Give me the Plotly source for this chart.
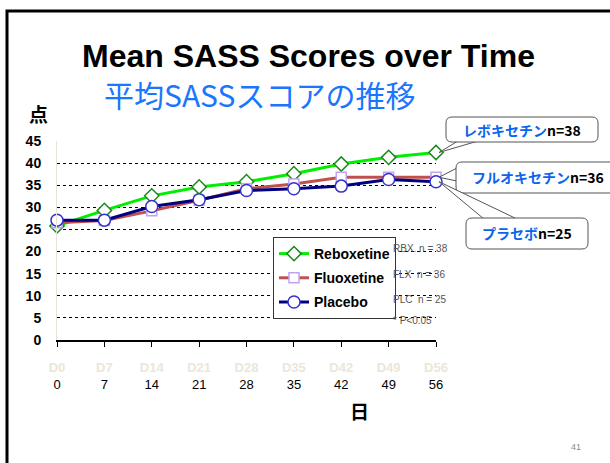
import plotly.graph_objects as go

# ---------------- data ----------------
days = [0, 7, 14, 21, 28, 35, 42, 49, 56]
day_labels = ["D0", "D7", "D14", "D21", "D28", "D35", "D42", "D49", "D56"]
day_numbers = ["0", "7", "14", "21", "28", "35", "42", "49", "56"]
reboxetine = [25.8, 29.3, 32.6, 34.6, 35.8, 37.6, 39.8, 41.3, 42.4]
fluoxetine = [26.5, 27.0, 29.2, 31.6, 34.2, 35.3, 36.8, 36.8, 36.8]
placebo = [27.1, 27.1, 30.2, 31.7, 33.8, 34.2, 34.8, 36.3, 35.8]
series_names = ["Reboxetine", "Fluoxetine", "Placebo"]
y_ticks = [0, 5, 10, 15, 20, 25, 30, 35, 40, 45]
callout_jp = ["レボキセチン", "フルオキセチン", "プラセボ"]
callout_n = ["n=38", "n=36", "n=25"]
side_notes = ["RBX. n = 38", "FLX  n = 36", "PLC  n = 25", "* P<0.05"]

W, H = 610, 463
L, R, T, B = 57, 436, 141, 340  # plot area in pixels

def px(x):
    return (x - L) / (R - L)

def py(y):
    return (B - y) / (B - T)

LAT = "Liberation Sans, Arial, sans-serif"
CJK = "Noto Sans CJK JP, Liberation Sans, sans-serif"

fig = go.Figure()
styles = [
    dict(line=dict(color="#00ee00", width=3),
         marker=dict(symbol="diamond", size=11, color="white", line=dict(color="#1a8a1a", width=1.5))),
    dict(line=dict(color="#c0504d", width=3),
         marker=dict(symbol="square", size=10, color="white", line=dict(color="#c4a2f2", width=1.5))),
    dict(line=dict(color="#000080", width=3),
         marker=dict(symbol="circle", size=12, color="white", line=dict(color="#3333cc", width=1.5))),
]
for name, vals, st, g in zip(series_names, [reboxetine, fluoxetine, placebo], styles, ["a", "b", "c"]):
    fig.add_trace(go.Scatter(x=days, y=vals, name=name, mode="lines+markers",
                             line=st["line"], marker=st["marker"], cliponaxis=False,
                             legendgroup=g))

ticktext = [f"<b><span style='color:#ebe7d8'>{d}</span></b><br>{n}" for d, n in zip(day_labels, day_numbers)]

shapes = []
# slide frame
shapes.append(dict(type="rect", xref="paper", yref="paper",
                   x0=px(7), x1=px(640), y0=py(11), y1=py(490),
                   line=dict(color="black", width=3), fillcolor="rgba(0,0,0,0)", layer="below"))

# legend shadow
shapes.append(dict(type="rect", xref="paper", yref="paper",
                   x0=px(276), x1=px(387), y0=py(240), y1=py(311),
                   line=dict(width=0), fillcolor="#9a9a9a", layer="above"))

def rounded(x0, y0, x1, y1, r=6):
    return (f"M {px(x0+r)},{py(y0)} L {px(x1-r)},{py(y0)} Q {px(x1)},{py(y0)} {px(x1)},{py(y0+r)} "
            f"L {px(x1)},{py(y1-r)} Q {px(x1)},{py(y1)} {px(x1-r)},{py(y1)} "
            f"L {px(x0+r)},{py(y1)} Q {px(x0)},{py(y1)} {px(x0)},{py(y1-r)} "
            f"L {px(x0)},{py(y0+r)} Q {px(x0)},{py(y0)} {px(x0+r)},{py(y0)} Z")

boxes = [(446, 117, 598, 142), (456, 162, 640, 193), (466, 218, 588, 249)]
tips_val = [reboxetine[-1], fluoxetine[-1], placebo[-1]]
wedge_bases = [((458, 141), (478, 141)), ((457, 168), (457, 181)), ((484, 219), (517, 219))]
for (x0, y0, x1, y1), v, (b1, b2) in zip(boxes, tips_val, wedge_bases):
    tipx = 1.0 + 3 / (R - L)
    tipy = v / 45.0
    shapes.append(dict(type="path", xref="paper", yref="paper",
                       path=f"M {px(b1[0])},{py(b1[1])} L {tipx},{tipy} L {px(b2[0])},{py(b2[1])}",
                       line=dict(color="#555555", width=1), fillcolor="white", layer="above"))
    shapes.append(dict(type="path", xref="paper", yref="paper", path=rounded(x0, y0, x1, y1),
                       line=dict(color="#555555", width=1), fillcolor="white", layer="above"))

annotations = []
def txt(x, y, text, size, color="black", family=LAT, xanchor="center", bold=False):
    t = f"<b>{text}</b>" if bold else text
    annotations.append(dict(x=px(x), y=py(y), xref="paper", yref="paper", text=t, showarrow=False,
                            font=dict(size=size, color=color, family=family),
                            xanchor=xanchor, yanchor="middle"))

txt(308, 56, "Mean SASS Scores over Time", 32, bold=True)
txt(102, 94, "平均SASSスコアの推移", 30, color="#1a75ff", family=CJK, xanchor="left")
txt(38, 113, "点", 19, family=CJK, bold=True)
txt(359, 410, "日", 19, family=CJK, bold=True)
txt(576, 447, "41", 9, color="#8c8c8c")

centers = [(522, 130), (538, 177), (527, 233)]
for (cx, cy), jp, n in zip(centers, callout_jp, callout_n):
    txt(cx, cy, f"<span style='color:#0a64f0'>{jp}</span>{n}", 14, family=CJK, bold=True)

for y, note in zip([248, 274, 299, 320], side_notes):
    txt(391, y, note, 10, color="#555555", xanchor="left")

fig.update_layout(
    width=W, height=H,
    margin=dict(l=L, r=W - R, t=T, b=H - B, pad=0),
    paper_bgcolor="white", plot_bgcolor="white",
    showlegend=True,
    legend=dict(x=px(273), y=py(237), xanchor="left", yanchor="top",
                bgcolor="white", bordercolor="#333333", borderwidth=1,
                font=dict(size=14, family=LAT, color="black", weight="bold"),
                tracegroupgap=3, itemwidth=30),
    xaxis=dict(range=[0, 56], tickvals=days, ticktext=ticktext, showgrid=False,
               zeroline=False, showline=True, linecolor="black", linewidth=1.5,
               ticks="outside", ticklen=5, tickcolor="black", tickwidth=1,
               tickfont=dict(size=13, family=LAT, color="black"), ticklabelstandoff=10,
               fixedrange=True),
    yaxis=dict(range=[0, 45], tickvals=y_ticks, showgrid=True, gridcolor="black",
               griddash="dot", gridwidth=1, zeroline=False, showline=True,
               linecolor="#e6e4d4", linewidth=1,
               tickfont=dict(size=14, family=LAT, color="black", weight="bold"),
               ticklabelstandoff=12, fixedrange=True),
    shapes=shapes,
    annotations=annotations,
    font=dict(family=LAT),
)

fig.write_html("out.html", config={"displayModeBar": False},
               post_script="document.body.style.margin='0px';document.body.style.overflow='hidden';")
